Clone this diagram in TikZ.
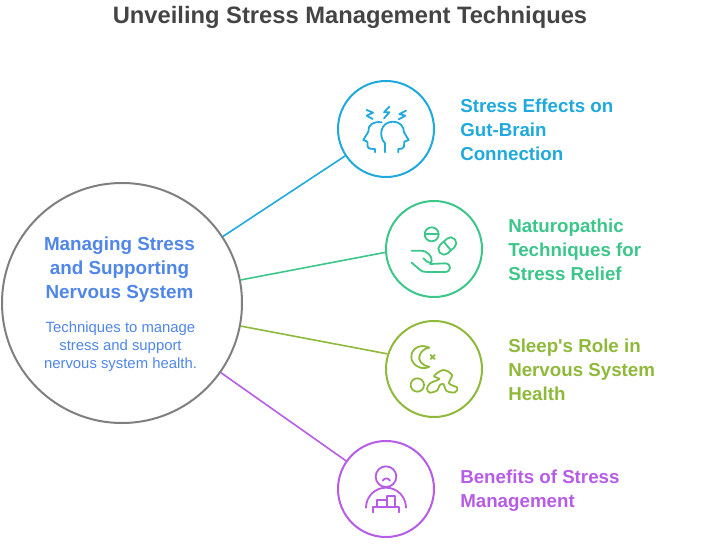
\documentclass[tikz,border=0pt]{standalone}
\usepackage{fontspec}
\setmainfont{Liberation Sans}
\usepackage{tikz}
\usetikzlibrary{arrows.meta,calc}
\definecolor{titlegray}{HTML}{444444}
\definecolor{hubgray}{HTML}{7F7F7F}
\definecolor{hubblue}{HTML}{4F86E8}
\definecolor{stressblue}{HTML}{1FA9DC}
\definecolor{natgreen}{HTML}{3CC68A}
\definecolor{sleepolive}{HTML}{8FB93A}
\definecolor{benefitpurple}{HTML}{B65CE6}
\tikzset{
  spoke/.style={circle, draw=#1, line width=1.5pt, minimum size=72pt, inner sep=0pt},
  link/.style={line width=1.2pt},
  label/.style={anchor=west, align=left, font=\bfseries\fontsize{14.05}{18}\selectfont, text=#1, inner sep=0pt},
  glyph/.style={line width=1.35pt, line cap=round, line join=round, x=.25pt, y=-.25pt}
}

\begin{document}
\begin{tikzpicture}[x=.75pt, y=-.75pt]
    \useasboundingbox (0,0) rectangle (701,550);
    \node[font=\bfseries\fontsize{17.8}{22}\selectfont, text=titlegray] (title) at (350,17) {Unveiling Stress Management Techniques};

    \node[circle, draw=hubgray, line width=1.5pt, minimum size=180pt, inner sep=0pt] (hub) at (122,303) {};
    \node[spoke=stressblue] (stress) at (386,129) {};
    \node[spoke=natgreen] (natural) at (434,249) {};
    \node[spoke=sleepolive] (sleep) at (434,369) {};
    \node[spoke=benefitpurple] (benefit) at (386,489) {};

    \draw[link, stressblue] (hub) -- (stress);
    \draw[link, natgreen] (hub.11) -- (natural.184);
    \draw[link, sleepolive] (hub.-11) -- (sleep.162);
    \draw[link, benefitpurple] (hub) -- (benefit);

    \node[align=center, font=\bfseries\fontsize{14.15}{18}\selectfont, text=hubblue] (hubtitle) at (119.5,269.5) {Managing Stress\\and Supporting\\Nervous System};
    \node[align=center, font=\fontsize{11.15}{13.5}\selectfont, text=hubblue] (hubtext) at (120.5,347) {Techniques to manage\\stress and support\\nervous system health.};

    \node[label=stressblue] (stresslabel) at (460,129.5) {Stress Effects on\\Gut-Brain\\Connection};
    \node[label=natgreen] (naturallabel) at (508,249.5) {Naturopathic\\Techniques for\\Stress Relief};
    \node[label=sleepolive] (sleeplabel) at (508,369.5) {Sleep\textquotesingle s Role in\\Nervous System\\Health};
    \node[label=benefitpurple] (benefitlabel) at (460,491) {Benefits of Stress\\Management};

    % heads
    \begin{scope}[shift={(330,75)}, glyph, draw=stressblue]
        \draw (155,142) .. controls (130,138) and (113,150) .. (115,170) -- (100,195) -- (112,200) -- (113,215) .. controls (114,221) and (125,222) .. (135,222) -- (135,232);
        \draw (165,232) -- (165,205) .. controls (145,185) and (150,140) .. (190,140) .. controls (210,140) and (222,155) .. (222,172) -- (236,195) -- (223,200) -- (222,215) .. controls (221,221) and (212,222) .. (205,222) -- (205,232);
        \draw (110,105) -- (129,113) -- (110,122) -- (128,132);
        \draw (178,95) -- (162,112) -- (178,112) -- (162,130);
        \draw (228,107) -- (208,117) -- (226,122) -- (206,133);
    \end{scope}

    % pills and hand
    \begin{scope}[shift={(380,195)}, glyph, draw=natgreen]
        \draw (155,118) circle [radius=21];
        \draw (135,118) -- (175,118);
        \draw[rotate around={42:(202,153)}, rounded corners=4pt] (172,136) rectangle (232,170);
        \draw (191,140) -- (213,166);
        \draw (95,167) -- (125,167) .. controls (140,168) and (156,182) .. (155,197) .. controls (154,208) and (143,204) .. (130,190);
        \draw (95,203) -- (118,223) .. controls (124,229) and (130,231) .. (140,231) -- (195,231) .. controls (215,231) and (215,205) .. (195,205) -- (150,207);
    \end{scope}

    % moon and sleeper
    \begin{scope}[shift={(380,315)}, glyph, draw=sleepolive]
        \draw (148,98) .. controls (120,85) and (93,100) .. (94,127) .. controls (95,150) and (125,168) .. (148,155) .. controls (125,152) and (115,135) .. (118,125) .. controls (120,112) and (132,100) .. (148,98) -- cycle;
        \draw (152,120) -- (164,132);
        \draw (164,120) -- (152,132);
        \draw (112,210) circle [radius=20];
        \draw plot [smooth cycle, tension=.55] coordinates {(141,222) (150,205) (178,192) (162,183) (190,165) (216,180) (207,205) (232,218) (225,232) (200,228) (190,207) (178,212) (172,226) (150,233)};
    \end{scope}

    % person at table
    \begin{scope}[shift={(330,435)}, glyph, draw=benefitpurple]
        \draw (168,125) circle [radius=31];
        \draw (158,137) .. controls (163,128) and (175,128) .. (180,137);
        \draw (108,218) arc [start angle=180, end angle=360, radius=60];
        \draw (128,232) -- (128,215) -- (208,215) -- (208,232);
        \draw (140,215) -- (140,195) -- (170,195);
        \draw (170,215) -- (170,182) -- (196,182) -- (196,215);
    \end{scope}
\end{tikzpicture}
\end{document}
